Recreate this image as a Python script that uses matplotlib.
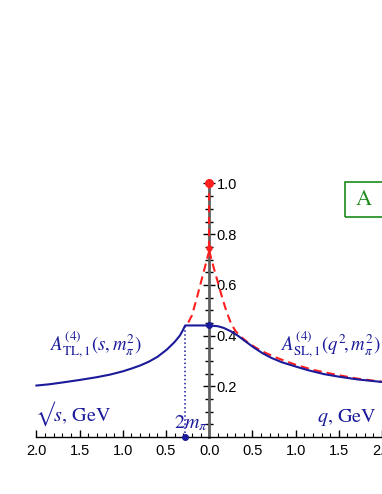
import matplotlib
matplotlib.use('Agg')
from matplotlib import pyplot as plt
from matplotlib import ticker
from matplotlib.patches import Rectangle
import numpy as np

matplotlib.rcParams['mathtext.fontset'] = 'stix'

# data
# right half: spacelike, q in GeV
sl_q = [0, 0.1, 0.17, 0.25, 0.33, 0.42, 0.52, 0.62, 0.72, 0.84, 1.0, 1.15, 1.33, 1.5, 1.72, 2.0]
sl_A = [0.44, 0.437, 0.43, 0.417, 0.40, 0.377, 0.352, 0.330, 0.312, 0.295, 0.278, 0.263, 0.248, 0.238, 0.227, 0.217]
# red dashed (right)
red_q = [0, 0.05, 0.1, 0.15, 0.2, 0.25, 0.3, 0.35, 0.45, 0.55, 0.65, 0.8, 1.0, 1.2, 1.45, 1.7, 2.0]
red_A = [0.735, 0.67, 0.61, 0.55, 0.495, 0.45, 0.42, 0.40, 0.372, 0.350, 0.332, 0.310, 0.285, 0.265, 0.247, 0.231, 0.218]
# red dashed (left)
red_s = [0, 0.05, 0.1, 0.15, 0.2, 0.26]
red_A_left = [0.735, 0.67, 0.605, 0.54, 0.48, 0.44]
# left half: timelike, sqrt(s) in GeV
two_mpi = 0.279
tl_s = [0, 0.279, 0.29, 0.31, 0.34, 0.4, 0.49, 0.6, 0.7, 0.8, 0.9, 1.0, 1.15, 1.3, 1.5, 1.7, 1.85, 2.0]
tl_A = [0.44, 0.44, 0.432, 0.418, 0.40, 0.375, 0.345, 0.316, 0.297, 0.282, 0.27, 0.259, 0.246, 0.236, 0.225, 0.215, 0.208, 0.203]
A_top = 1.0
A_peak = 0.745
A_zero = 0.44

navy = '#1a1a9a'
red = '#ff1f1f'

fig = plt.figure(figsize=(3.82, 4.94), dpi=100)
ax = fig.add_axes([0, 0, 1, 1])
ax.set_xlim(-209.5 / 86.5, 172.5 / 86.5)
ax.set_ylim(-57 / 253.5, 437 / 253.5)

# curves
ax.plot(sl_q, sl_A, color=navy, lw=1.5, zorder=5)
ax.plot(-np.array(tl_s), tl_A, color=navy, lw=1.5, zorder=5)
ax.plot(red_q, red_A, color=red, lw=1.5, dashes=(4, 2.4), zorder=4)
ax.plot(-np.array(red_s), red_A_left, color=red, lw=1.5, dashes=(4, 2.4), zorder=4)
ax.plot([0, 0], [A_peak, A_top], color=red, lw=1.5, dashes=(3.5, 2.2), zorder=4)
ax.plot([0], [A_top], 'o', color=red, ms=5.5, zorder=6)
ax.plot([0], [A_peak], 'o', color=red, ms=3.5, zorder=6)
ax.plot([-two_mpi, -two_mpi], [0, A_zero], color=navy, lw=1.1, ls=':', zorder=4)
ax.plot([-two_mpi], [0], 'o', color=navy, ms=4, zorder=6, clip_on=False)
ax.plot([0], [A_zero], 'o', color=navy, ms=4, zorder=6)

# axes through the origin
for s in ['top', 'left']:
    ax.spines[s].set_visible(False)
ax.spines['right'].set_position(('data', 0))
ax.spines['right'].set_bounds(0, 1)
ax.spines['right'].set_color('#606060')
ax.spines['right'].set_linewidth(2.0)
ax.spines['right'].set_zorder(2)
ax.spines['bottom'].set_position(('data', 0))
ax.spines['bottom'].set_bounds(-2, 2)
ax.spines['bottom'].set_linewidth(1.0)

ax.yaxis.tick_right()
ax.set_yticks([0.2, 0.4, 0.6, 0.8, 1.0])
ax.set_yticks(np.arange(0.05, 1.0, 0.05), minor=True)
ax.yaxis.set_major_formatter(ticker.FormatStrFormatter('%.1f'))
ax.tick_params(axis='y', which='major', direction='inout', length=9, width=1, pad=1)
ax.tick_params(axis='y', which='minor', direction='inout', length=6, width=1)

ax.set_xticks(np.arange(-2, 2.01, 0.5))
ax.set_xticks(np.arange(-2, 2.01, 0.1), minor=True)
ax.xaxis.set_major_formatter(ticker.FuncFormatter(lambda v, p: '%.1f' % abs(v)))
ax.tick_params(axis='x', which='major', direction='in', length=5, width=1, pad=5)
ax.tick_params(axis='x', which='minor', direction='in', length=3, width=0.8)
for lab in ax.get_xticklabels() + ax.get_yticklabels():
    lab.set_fontfamily('Liberation Sans')
    lab.set_fontsize(10.5)

# labels
px = lambda p: (p - 209.5) / 86.5
py = lambda p: (437 - p) / 253.5
ax.text(px(50), py(351), r'$A^{(4)}_{\rm TL,1}(s,m_\pi^2)$', color=navy, fontsize=13.5)
ax.text(px(281), py(351), r'$A^{(4)}_{\rm SL,1}(q^2\!,m_\pi^2)$', color=navy, fontsize=13.5)
ax.text(px(35), py(421), '\u221a$s$, GeV', color=navy, fontsize=14.5, family='STIXGeneral')
ax.text(px(317), py(422), r'$q$, GeV', color=navy, fontsize=14.5, family='STIXGeneral')
ax.text(px(174), py(428), r'$2m_\pi$', color=navy, fontsize=14.5)

# panel tag
fig.patches.append(Rectangle((345 / 382, 1 - 217 / 494), 40 / 382, 35 / 494,
                             transform=fig.transFigure, fill=False, ec='#1a8a1a', lw=1.2))
fig.text(364 / 382, 1 - 200 / 494, 'A', color='#1a8a1a', fontsize=16, family='STIXGeneral',
         ha='center', va='center')

fig.savefig('out.png', dpi=100)
